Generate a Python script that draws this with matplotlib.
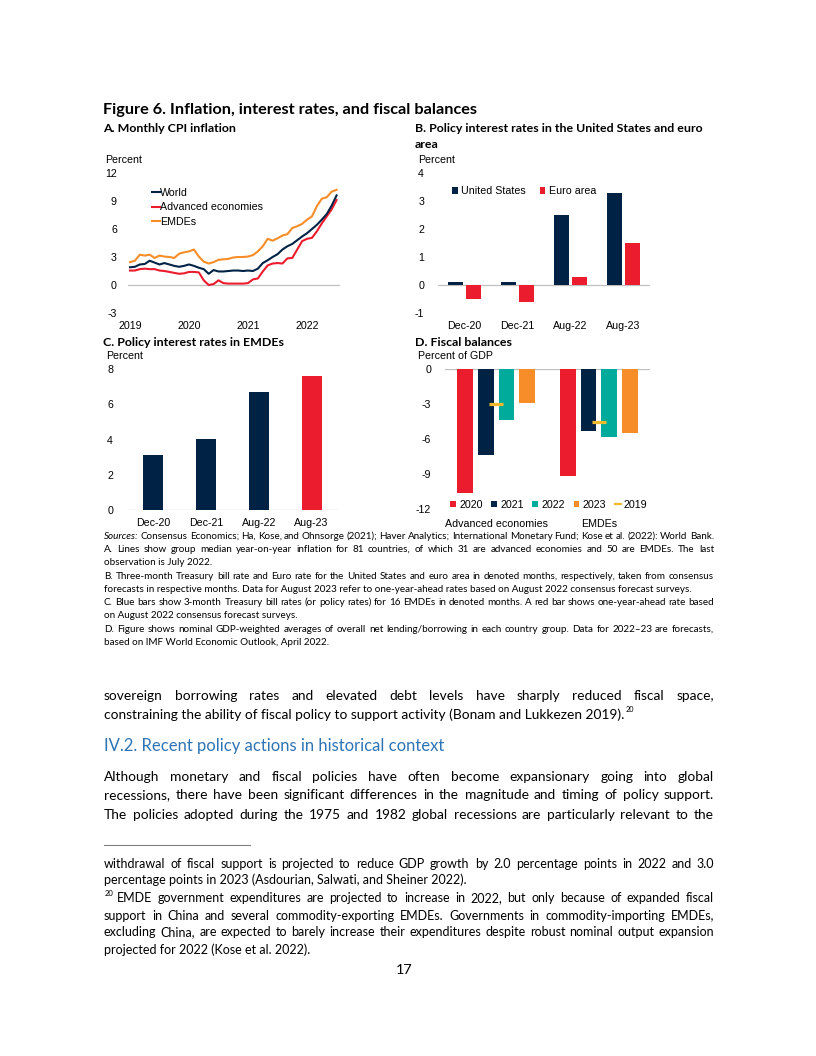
import numpy as np
import matplotlib
matplotlib.use("Agg")
import matplotlib.pyplot as plt
from matplotlib.lines import Line2D

# --- data -------------------------------------------------------------
# A. monthly CPI inflation, Jan 2019 - Jul 2022
world = [1.9, 1.95, 2.2, 2.25, 2.6, 2.4, 2.2, 2.35, 2.2, 2.05, 1.95, 2.05, 2.2, 2.05,
         1.85, 1.7, 1.2, 1.6, 1.45, 1.45, 1.5, 1.55, 1.55, 1.5, 1.55, 1.5, 1.75, 2.35,
         2.65, 3.0, 3.3, 3.8, 4.15, 4.4, 4.8, 5.2, 5.55, 6.0, 6.45, 7.0, 7.6, 8.5, 9.6]
advanced = [1.55, 1.55, 1.7, 1.75, 1.7, 1.7, 1.55, 1.5, 1.4, 1.3, 1.2, 1.25, 1.4, 1.4,
            1.35, 0.5, 0.0, 0.1, 0.5, 0.2, 0.15, 0.15, 0.15, 0.15, 0.2, 0.6, 0.7, 1.45,
            2.1, 2.3, 2.35, 2.3, 2.85, 2.9, 3.8, 4.7, 4.95, 5.05, 5.75, 6.6, 7.35, 8.1, 9.1]
emde = [2.45, 2.6, 3.25, 3.15, 3.25, 2.9, 3.15, 3.05, 3.0, 2.9, 3.35, 3.5, 3.6, 3.8,
        3.05, 2.5, 2.3, 2.45, 2.7, 2.75, 2.8, 2.95, 3.0, 3.0, 3.05, 3.2, 3.6, 4.15,
        4.95, 4.75, 5.0, 5.3, 5.45, 6.1, 6.3, 6.55, 7.0, 7.35, 8.45, 9.25, 9.4, 10.0, 10.2]
year_labels = ["2019", "2020", "2021", "2022"]

# B. policy rates US / euro area
dates = ["Dec-20", "Dec-21", "Aug-22", "Aug-23"]
us_rate = [0.1, 0.1, 2.5, 3.3]
ea_rate = [-0.5, -0.6, 0.3, 1.5]

# C. policy rates EMDEs
emde_rate = [3.1, 4.05, 6.7, 7.6]

# D. fiscal balances
groups = ["Advanced economies", "EMDEs"]
fb_years = ["2020", "2021", "2022", "2023"]
fb = {"2020": [-10.6, -9.2], "2021": [-7.4, -5.35], "2022": [-4.4, -5.8], "2023": [-2.95, -5.5]}
fb_2019 = [-3.0, -4.55]

navy = "#002345"
red = "#EB1C2D"
orange = "#F78D28"
teal = "#00AB9C"
gold = "#F0B92F"
grey = "#BFBFBF"

W, H = 816, 1056
plt.rcParams["font.family"] = ["Liberation Sans", "DejaVu Sans"]
plt.rcParams["axes.unicode_minus"] = False
fig = plt.figure(figsize=(W / 100, H / 100), dpi=100)
fs = 7.7


def box(x0, y0, x1, y1):
    return fig.add_axes([x0 / W, 1 - y1 / H, (x1 - x0) / W, (y1 - y0) / H])


def clean(ax):
    for s in ax.spines.values():
        s.set_visible(False)
    ax.tick_params(length=0, labelsize=fs)
    ax.axhline(0, color=grey, lw=0.9, zorder=0)


def ftext(x, y, s, **kw):
    kw.setdefault("va", "center")
    return fig.text(x / W, 1 - y / H, s, **kw)


# headings
ptl = 8.9
ftext(103, 110, "Figure 6. Inflation, interest rates, and fiscal balances",
      family="Lato", weight="bold", fontsize=11.7)
ftext(103, 128, "A. Monthly CPI inflation", family="Lato", weight="bold", fontsize=ptl)
ftext(415, 128, "B. Policy interest rates in the United States and euro", family="Lato",
      weight="bold", fontsize=ptl)
ftext(415, 145, "area", family="Lato", weight="bold", fontsize=ptl)
ftext(103, 342, "C. Policy interest rates in EMDEs", family="Lato", weight="bold", fontsize=ptl)
ftext(415, 342, "D. Fiscal balances", family="Lato", weight="bold", fontsize=ptl)

# --- A ---
ax = box(128, 173, 340, 313)
clean(ax)
t = np.arange(len(world))
ax.plot(t, emde, color=orange, lw=1.5, label="EMDEs")
ax.plot(t, advanced, color=red, lw=1.5, label="Advanced economies")
ax.plot(t, world, color=navy, lw=1.5, label="World")
ax.set_xlim(-0.4, 42.7)
ax.set_ylim(-3, 12)
ax.set_yticks([-3, 0, 3, 6, 9, 12])
ax.set_xticks([0, 12, 24, 36], year_labels)
ax.tick_params(axis="y", pad=8)
ax.tick_params(axis="x", pad=6)
h, l = ax.get_legend_handles_labels()
ax.legend(h[::-1], l[::-1], loc="upper left", bbox_to_anchor=(0.115, 0.893), frameon=False,
          fontsize=fs, handlelength=0.7, handletextpad=0.05, labelspacing=0.4,
          borderpad=0, borderaxespad=0)
ftext(105, 160, "Percent", fontsize=fs)

# --- B ---
ax = box(438, 173, 650, 313)
clean(ax)
x = np.arange(len(dates))
ax.bar(x - 0.17, us_rate, 0.265, color=navy, label="United States")
ax.bar(x + 0.17, ea_rate, 0.265, color=red, label="Euro area")
ax.set_xlim(-0.5, 3.5)
ax.set_ylim(-1, 4)
ax.set_yticks(range(-1, 5))
ax.set_xticks(x, dates)
ax.tick_params(axis="y", pad=10)
ax.tick_params(axis="x", pad=6)
ax.legend(loc="center left", bbox_to_anchor=(0.065, 0.87), frameon=False, ncol=2, fontsize=fs,
          handlelength=0.55, handleheight=0.55, handletextpad=0.3, columnspacing=1.3,
          borderpad=0, borderaxespad=0)
ftext(418, 160, "Percent", fontsize=fs)

# --- C ---
ax = box(127, 369, 338, 510)
clean(ax)
ax.bar(x, emde_rate, 0.38, color=[navy, navy, navy, red])
ax.set_xlim(-0.5, 3.5)
ax.set_ylim(0, 8)
ax.set_yticks(range(0, 9, 2))
ax.set_xticks(x, dates)
ax.tick_params(axis="y", pad=10)
ax.tick_params(axis="x", pad=6)
ftext(106, 356, "Percent", fontsize=fs)

# --- D ---
ax = box(445, 369, 650, 509)
clean(ax)
g = np.arange(len(groups))
step = 0.202
for k, (yr, c) in enumerate(zip(fb_years, [red, navy, teal, orange])):
    ax.bar(g + (k - 1.5) * step, fb[yr], 0.153, color=c, label=yr)
ax.plot(g, fb_2019, ls="none", marker="_", ms=9.5, mew=2.3, color=gold)
handles, labels = ax.get_legend_handles_labels()
handles.append(Line2D([], [], color=gold, lw=1.6))
labels.append("2019")
ax.legend(handles, labels, loc="center left", bbox_to_anchor=(0.025, 0.03), frameon=False,
          ncol=5, fontsize=fs, handlelength=0.55, handleheight=0.55, handletextpad=0.3,
          columnspacing=0.8, borderpad=0, borderaxespad=0)
ax.set_xlim(-0.5, 1.5)
ax.set_ylim(-12, 0)
ax.set_yticks([0, -3, -6, -9, -12])
ax.set_xticks(g, groups)
ax.tick_params(axis="y", pad=10)
ax.tick_params(axis="x", pad=7)
ftext(418, 356, "Percent of GDP", fontsize=fs)

# --- page text ---
r = fig.canvas.get_renderer()


def line(s, y, size, x0=104, x1=714, just=True, first_italic=False, color="black"):
    yb = y + 0.36 * size * 100 / 72
    words = s.split(" ")
    if not just:
        return ftext(x0, yb, s, family="Lato", fontsize=size, va="baseline", color=color)
    objs = []
    for i, w in enumerate(words):
        st = "italic" if (first_italic and i == 0) else "normal"
        objs.append(ftext(x0, yb, w, family="Lato", fontsize=size, style=st, va="baseline"))
    widths = [o.get_window_extent(r).width for o in objs]
    gap = (x1 - x0 - sum(widths)) / (len(words) - 1)
    xx = x0
    for o, wd in zip(objs, widths):
        o.set_x(xx / W)
        xx += wd + gap
    return objs[-1]


cap = 7.15
line("Sources: Consensus Economics; Ha, Kose, and Ohnsorge (2021); Haver Analytics; "
     "International Monetary Fund; Kose et al. (2022): World Bank.", 535, cap, first_italic=True)
line("A. Lines show group median year-on-year inflation for 81 countries, of which 31 are "
     "advanced economies and 50 are EMDEs. The last", 548, cap)
line("observation is July 2022.", 561, cap, just=False)
line("B. Three-month Treasury bill rate and Euro rate for the United States and euro area in "
     "denoted months, respectively, taken from consensus", 575, cap)
line("forecasts in respective months. Data for August 2023 refer to one-year-ahead rates based "
     "on August 2022 consensus forecast surveys.", 588, cap, just=False)
line("C. Blue bars show 3-month Treasury bill rates (or policy rates) for 16 EMDEs in denoted "
     "months. A red bar shows one-year-ahead rate based", 601, cap)
line("on August 2022 consensus forecast surveys.", 614, cap, just=False)
line("D. Figure shows nominal GDP-weighted averages of overall net lending/borrowing in each "
     "country group. Data for 2022\u201323 are forecasts,", 628, cap)
line("based on IMF World Economic Outlook, April 2022.", 641, cap, just=False)

body = 9.9
line("sovereign borrowing rates and elevated debt levels have sharply reduced fiscal space,",
     695, body)
t2 = line("constraining the ability of fiscal policy to support activity (Bonam and Lukkezen 2019).",
          714, body, just=False)
bb = t2.get_window_extent(r)
ftext(bb.x1 + 1, 709, "20", family="Lato", fontsize=5.2)
line("IV.2. Recent policy actions in historical context", 745, 12.0, just=False, color="#2E74B5")
line("Although monetary and fiscal policies have often become expansionary going into global",
     776, body)
line("recessions, there have been significant differences in the magnitude and timing of policy "
     "support.", 794, body)
line("The policies adopted during the 1975 and 1982 global recessions are particularly relevant "
     "to the", 814, body)

fig.add_artist(Line2D([104 / W, 250 / W], [1 - 845 / H, 1 - 845 / H], color="#808080", lw=0.8))

foot = 9.0
line("withdrawal of fiscal support is projected to reduce GDP growth by 2.0 percentage points "
     "in 2022 and 3.0", 863, foot)
line("percentage points in 2023 (Asdourian, Salwati, and Sheiner 2022).", 880, foot, just=False)
ftext(105, 894, "20", family="Lato", fontsize=5.5)
line("EMDE government expenditures are projected to increase in 2022, but only because of "
     "expanded fiscal", 898, foot, x0=117)
line("support in China and several commodity-exporting EMDEs. Governments in commodity-importing "
     "EMDEs,", 915, foot)
line("excluding China, are expected to barely increase their expenditures despite robust "
     "nominal output expansion", 932, foot)
line("projected for 2022 (Kose et al. 2022).", 949, foot, just=False)
ftext(404, 970, "17", family="Lato", fontsize=10.4, ha="center")

fig.savefig("out.png", dpi=100)
